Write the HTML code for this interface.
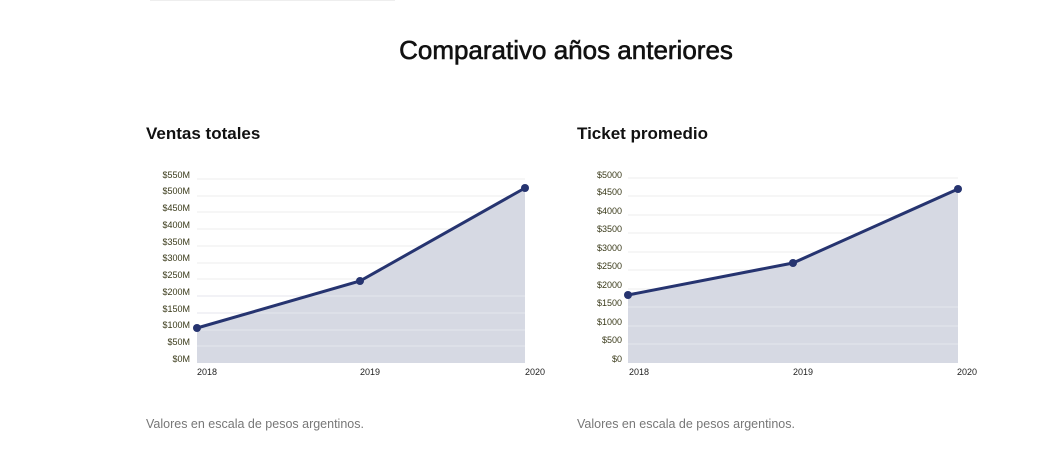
<!DOCTYPE html>
<html><head><meta charset="utf-8"><style>
body{margin:0;width:1060px;height:469px;background:#fff;font-family:"Liberation Sans",sans-serif;overflow:hidden}
</style></head><body>
<svg width="1060" height="469" xmlns="http://www.w3.org/2000/svg" font-family="Liberation Sans, sans-serif">
<line x1="150" y1="0.5" x2="395" y2="0.5" stroke="#eee"/>
<text x="566" y="59" text-anchor="middle" font-size="26" fill="#111" stroke="#111" stroke-width="0.6">Comparativo años anteriores</text>
<text x="146" y="139" font-size="17" font-weight="bold" fill="#111">Ventas totales</text>
<text x="577" y="139" font-size="17" font-weight="bold" fill="#111">Ticket promedio</text>
<g stroke="#eee" stroke-width="1">
<line x1="197" y1="179" x2="525" y2="179"/><line x1="197" y1="196" x2="525" y2="196"/><line x1="197" y1="212" x2="525" y2="212"/><line x1="197" y1="229" x2="525" y2="229"/><line x1="197" y1="246" x2="525" y2="246"/><line x1="197" y1="263" x2="525" y2="263"/><line x1="197" y1="279" x2="525" y2="279"/><line x1="197" y1="296" x2="525" y2="296"/><line x1="197" y1="313" x2="525" y2="313"/><line x1="197" y1="330" x2="525" y2="330"/><line x1="197" y1="346" x2="525" y2="346"/>
<line x1="628" y1="178" x2="958" y2="178"/><line x1="628" y1="196" x2="958" y2="196"/><line x1="628" y1="215" x2="958" y2="215"/><line x1="628" y1="233" x2="958" y2="233"/><line x1="628" y1="252" x2="958" y2="252"/><line x1="628" y1="270" x2="958" y2="270"/><line x1="628" y1="289" x2="958" y2="289"/><line x1="628" y1="307" x2="958" y2="307"/><line x1="628" y1="326" x2="958" y2="326"/><line x1="628" y1="344" x2="958" y2="344"/>
</g>
<path d="M197,328 L360,281 L525,188 L525,363 L197,363Z" fill="#d6d9e3"/>
<path d="M628,295 L793,263 L958,189 L958,363 L628,363Z" fill="#d6d9e3"/>
<g stroke="#e4e6ec" stroke-width="1">
<line x1="197" y1="296" x2="525" y2="296"/><line x1="197" y1="313" x2="525" y2="313"/><line x1="197" y1="330" x2="525" y2="330"/><line x1="197" y1="346" x2="525" y2="346"/>
<line x1="628" y1="307" x2="958" y2="307"/><line x1="628" y1="326" x2="958" y2="326"/><line x1="628" y1="344" x2="958" y2="344"/>
</g>
<polyline points="197,328 360,281 525,188" fill="none" stroke="#263470" stroke-width="3"/>
<polyline points="628,295 793,263 958,189" fill="none" stroke="#263470" stroke-width="3"/>
<g fill="#263470"><circle cx="197" cy="328" r="4"/><circle cx="360" cy="281" r="4"/><circle cx="525" cy="188" r="4"/><circle cx="628" cy="295" r="4"/><circle cx="793" cy="263" r="4"/><circle cx="958" cy="189" r="4"/></g>
<g font-size="9" fill="#3a3a1a" text-anchor="end">
<text x="190" y="178">$550M</text><text x="190" y="194">$500M</text><text x="190" y="211">$450M</text><text x="190" y="228">$400M</text><text x="190" y="245">$350M</text><text x="190" y="261">$300M</text><text x="190" y="278">$250M</text><text x="190" y="295">$200M</text><text x="190" y="312">$150M</text><text x="190" y="328">$100M</text><text x="190" y="345">$50M</text><text x="190" y="362">$0M</text>
<text x="622" y="178">$5000</text><text x="622" y="195">$4500</text><text x="622" y="214">$4000</text><text x="622" y="232">$3500</text><text x="622" y="251">$3000</text><text x="622" y="269">$2500</text><text x="622" y="288">$2000</text><text x="622" y="306">$1500</text><text x="622" y="325">$1000</text><text x="622" y="343">$500</text><text x="622" y="362">$0</text>
</g>
<g font-size="9" fill="#222">
<text x="197" y="375">2018</text><text x="360" y="375">2019</text><text x="525" y="375">2020</text>
<text x="629" y="375">2018</text><text x="793" y="375">2019</text><text x="957" y="375">2020</text>
</g>
<text x="146" y="428" font-size="12.5" fill="#777">Valores en escala de pesos argentinos.</text>
<text x="577" y="428" font-size="12.5" fill="#777">Valores en escala de pesos argentinos.</text>
</svg>
</body></html>
